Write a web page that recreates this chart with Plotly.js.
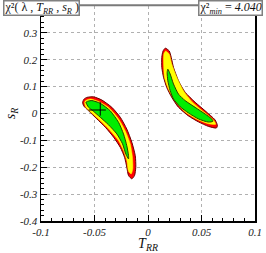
<!DOCTYPE html>
<html>
<head>
<meta charset="utf-8">
<script src="https://cdn.plot.ly/plotly-3.0.1.min.js"></script>
<style>html,body{margin:0;padding:0;background:#fff;}#chart{width:266px;height:253px;}</style>
</head>
<body>
<div id="chart"></div>
<script>
// ---- data ----
// right island contours (T_RR, s_R)
const rightRedX = [0.0161,0.0198,0.0217,0.0238,0.0285,0.0347,0.0440,0.0534,0.0627,0.0649,0.0639,0.0565,0.0471,0.0378,0.0285,0.0222,0.0175,0.0145,0.0129,0.0129,0.0140];
const rightRedY = [0.243,0.233,0.209,0.172,0.122,0.079,0.042,0.010,-0.024,-0.045,-0.054,-0.048,-0.031,-0.009,0.023,0.060,0.097,0.135,0.172,0.209,0.232];
const rightYellowX = [0.0166,0.0198,0.0222,0.0269,0.0331,0.0409,0.0518,0.0611,0.0633,0.0565,0.0455,0.0347,0.0254,0.0191,0.0154,0.0145,0.0149];
const rightYellowY = [0.233,0.221,0.184,0.135,0.085,0.045,0.007,-0.024,-0.040,-0.038,-0.021,0.006,0.046,0.091,0.135,0.196,0.223];
const rightGreenX = [0.0185,0.0207,0.0238,0.0285,0.0347,0.0440,0.0534,0.0595,0.0607,0.0565,0.0471,0.0378,0.0301,0.0238,0.0207,0.0185,0.0179];
const rightGreenY = [0.165,0.147,0.110,0.072,0.048,0.023,-0.002,-0.020,-0.029,-0.032,-0.020,0.002,0.025,0.054,0.085,0.122,0.153];
// left island contours
const leftRedX = [-0.0611,-0.0597,-0.0571,-0.0509,-0.0431,-0.0338,-0.0259,-0.0198,-0.0151,-0.0119,-0.0114,-0.0126,-0.0151,-0.0182,-0.0198,-0.0219,-0.0259,-0.0322,-0.0399,-0.0478,-0.0555,-0.0602];
const leftRedY = [0.042,0.054,0.060,0.062,0.050,0.023,-0.014,-0.058,-0.107,-0.157,-0.200,-0.231,-0.243,-0.231,-0.200,-0.163,-0.126,-0.088,-0.051,-0.020,0.010,0.029];
const leftYellowX = [-0.0593,-0.0579,-0.0539,-0.0462,-0.0369,-0.0275,-0.0213,-0.0166,-0.0145,-0.0142,-0.0157,-0.0182,-0.0198,-0.0229,-0.0275,-0.0353,-0.0431,-0.0509,-0.0580];
const leftYellowY = [0.042,0.049,0.054,0.045,0.023,-0.020,-0.064,-0.113,-0.163,-0.206,-0.225,-0.215,-0.175,-0.138,-0.101,-0.064,-0.033,-0.004,0.023];
const leftGreenX = [-0.0580,-0.0560,-0.0524,-0.0446,-0.0353,-0.0275,-0.0229,-0.0198,-0.0182,-0.0182,-0.0207,-0.0238,-0.0291,-0.0369,-0.0446,-0.0509,-0.0555];
const leftGreenY = [0.042,0.046,0.048,0.038,0.010,-0.033,-0.076,-0.120,-0.157,-0.169,-0.151,-0.113,-0.076,-0.042,-0.014,0.008,0.023];
// best-fit point with its cross
const bestX = [-0.0446];
const bestY = [0.013];
const bestErrXMinus = [0.0109];
const bestErrXPlus = [0.0052];
const bestErrYPlus = [0.029];
const bestErrYMinus = [0.021];
// ticks
const xTickVals = [-0.1,-0.05,0,0.05,0.1];
const xTickText = ['-0.1','-0.05','0','0.05','0.1'];
const yTickVals = [-0.4,-0.3,-0.2,-0.1,0,0.1,0.2,0.3];
const yTickText = ['-0.4','-0.3','-0.2','-0.1','0','0.1','0.2','0.3'];
const chiMin = '4.040';

const RED='#ff0000', YEL='#ffff00', GRN='#00ee00';
function poly(x,y,fill,lc,lw){
  return {type:'scatter',mode:'lines',x:x.concat([x[0]]),y:y.concat([y[0]]),fill:'toself',fillcolor:fill,
    line:{color:lc,width:lw,shape:'spline',smoothing:0.6},hoverinfo:'skip',showlegend:false};
}
const traces = [
  poly(rightRedX,rightRedY,RED,'#6a0000',1),
  poly(rightYellowX,rightYellowY,YEL,YEL,0.5),
  poly(rightGreenX,rightGreenY,GRN,'#2b3b00',1),
  poly(leftRedX,leftRedY,RED,'#6a0000',1),
  poly(leftYellowX,leftYellowY,YEL,YEL,0.5),
  poly(leftGreenX,leftGreenY,GRN,'#2b3b00',1),
  {type:'scatter',mode:'markers',x:bestX,y:bestY,marker:{size:1,color:'#000'},
   error_x:{type:'data',array:bestErrXPlus,arrayminus:bestErrXMinus,symmetric:false,width:0,thickness:1,color:'#000'},
   error_y:{type:'data',array:bestErrYPlus,arrayminus:bestErrYMinus,symmetric:false,width:0,thickness:1,color:'#000'},hoverinfo:'skip',showlegend:false}
];
const it = a => a.map(s => '<i>'+s+'</i>');
const serif = 'Liberation Serif, Times New Roman, serif';
const layout = {
  width:266,height:253,
  margin:{l:41,r:11,t:6,b:32},
  paper_bgcolor:'#fff',plot_bgcolor:'#fff',
  showlegend:false,
  xaxis:{range:[-0.1,0.1],tickvals:xTickVals,ticktext:it(xTickText),ticks:'inside',ticklen:6,tickwidth:1,tickcolor:'#000',
    showline:true,linecolor:'#000',linewidth:1.5,mirror:false,zeroline:false,
    showgrid:true,gridcolor:'#b0b0b0',griddash:'dot',gridwidth:1,
    minor:{dtick:0.01,tick0:0,ticks:'inside',ticklen:3,tickcolor:'#000',showgrid:false},
    tickfont:{family:serif,size:11,color:'#222'},
    title:{text:'<i>T</i><sub><i>RR</i></sub>',font:{family:serif,size:14,color:'#111'},standoff:4}},
  yaxis:{range:[-0.4,0.4],tickvals:yTickVals,ticktext:it(yTickText),ticks:'inside',ticklen:6,tickwidth:1,tickcolor:'#000',
    showline:true,linecolor:'#000',linewidth:1.5,mirror:true,zeroline:false,
    showgrid:true,gridcolor:'#b0b0b0',griddash:'dot',gridwidth:1,
    minor:{dtick:0.02,tick0:0,ticks:'inside',ticklen:3,tickcolor:'#000',showgrid:false},
    tickfont:{family:serif,size:11,color:'#222'},
    title:{text:'<i>s</i><sub><i>R</i></sub>',font:{family:serif,size:14,color:'#111'},standoff:1}},
  shapes:[
    {type:'line',xref:'paper',yref:'paper',x0:0,x1:1,y0:1.004,y1:1.004,line:{color:'#7a7a7a',width:2},layer:'above'}
  ],
  annotations:[
    {xref:'paper',yref:'paper',x:-0.178,y:1.028,xanchor:'left',yanchor:'top',showarrow:false,height:13,
     text:'χ²( λ , <i>T</i><sub><i>RR</i></sub> , <i>s</i><sub><i>R</i></sub> )',
     font:{family:serif,size:12,color:'#111'},bgcolor:'#fff',bordercolor:'#808080',borderwidth:1.5,borderpad:0},
    {xref:'paper',yref:'paper',x:1.037,y:1.028,xanchor:'right',yanchor:'top',showarrow:false,height:13,
     text:'χ²<sub><i>min</i></sub> = <i>'+chiMin+'</i>',
     font:{family:serif,size:12,color:'#111'},bgcolor:'#fff',bordercolor:'#808080',borderwidth:1.5,borderpad:0}
  ]
};
Plotly.newPlot('chart',traces,layout,{staticPlot:true,displayModeBar:false});
</script>
</body>
</html>
